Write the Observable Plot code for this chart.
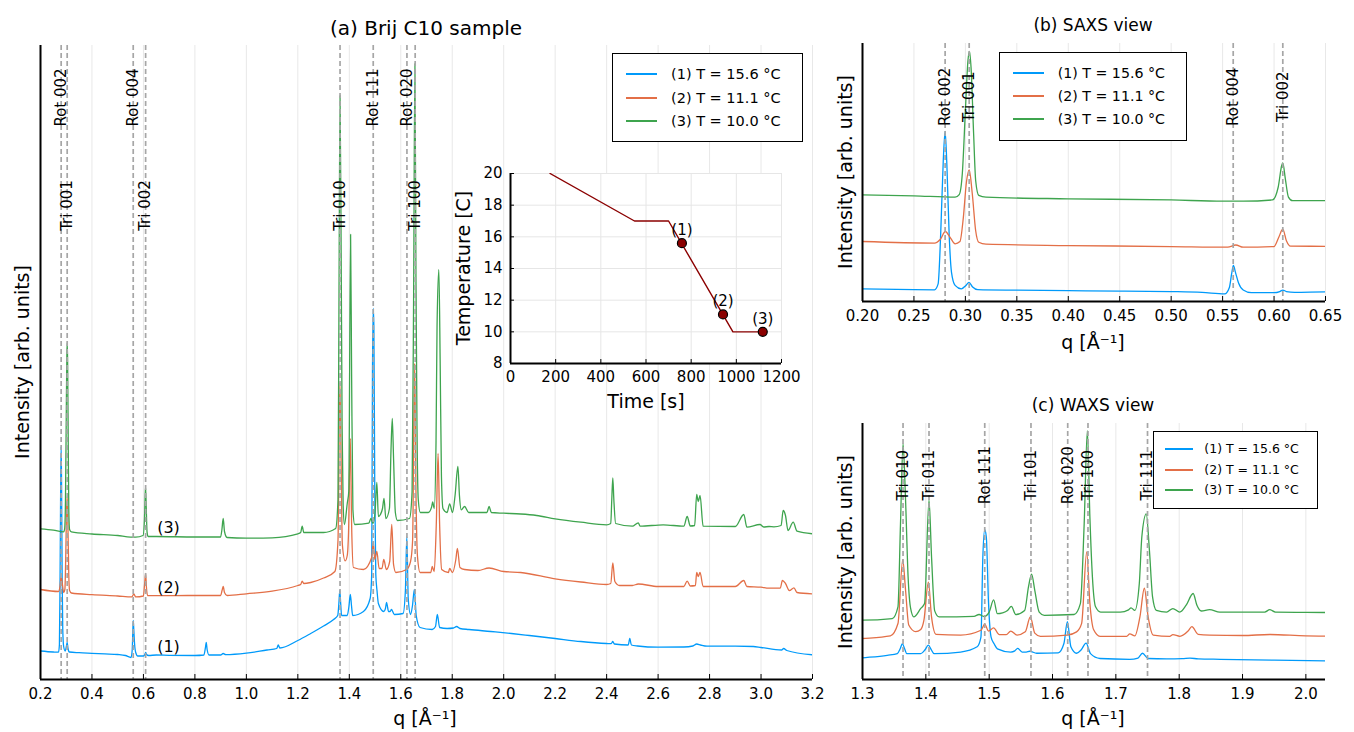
<!DOCTYPE html>
<html><head><meta charset="utf-8">
<script src="https://cdn.jsdelivr.net/npm/d3@7"></script>
<script src="https://cdn.jsdelivr.net/npm/@observablehq/plot@0.6"></script>
<style>
body{margin:0;background:#fff;font-family:"DejaVu Sans",sans-serif;}
#root{position:relative;width:1354px;height:732px;overflow:hidden;background:#fff;}
.pane{position:absolute;}
.lbl{position:absolute;white-space:nowrap;color:#000;line-height:1;}
.legend{position:absolute;border:1.5px solid #000;background:#fff;box-sizing:border-box;}
.legend .sw{position:absolute;height:2px;}
.legend .tx{position:absolute;white-space:nowrap;transform:translateY(-50%);line-height:1;color:#000;}
</style></head><body><div id="root"></div><script>
// ---------- data ----------
const seriesNames = ["(1) T = 15.6 °C", "(2) T = 11.1 °C", "(3) T = 10.0 °C"];
const seriesColors = ["#009AFA", "#E36F47", "#3EA44E"];

// [q (Å^-1), intensity (arb. units, offset)]
const spectrum1 = [
[0.200,28.5],[0.250,27.5],[0.270,27.3],[0.2735,35],[0.2760,100],[0.2785,195],[0.2803,233],[0.2820,190],[0.2842,100],[0.2865,50],[0.2900,33],[0.2960,28.5],[0.3005,33],[0.3035,37],[0.3070,31],[0.3120,27.5],[0.350,26.8],[0.400,26.2],[0.450,25.6],[0.500,25.0],[0.530,24.0],[0.552,22.0],[0.5565,30],[0.5590,50],[0.5605,59],[0.5625,50],[0.5655,36],[0.5700,27],[0.5780,23.5],[0.600,23.5],[0.6055,25],[0.6085,27],[0.6120,25],[0.620,24],[0.650,24.5],[0.700,24.2],[0.800,24],[0.835,24.5],[0.8415,33],[0.8440,37],[0.8475,30],[0.855,24.5],[0.900,24.5],[0.910,26],[0.920,24.8],[1.000,26.3],[1.080,29.5],[1.118,31],[1.124,34.5],[1.130,31.5],[1.200,39],[1.250,46],[1.300,53.5],[1.339,60],[1.355,64],[1.3595,76],[1.3630,89],[1.3665,76],[1.370,64],[1.392,64],[1.3985,73],[1.404,85],[1.4085,74],[1.413,64],[1.455,68],[1.481,81],[1.487,105],[1.490,303],[1.493,371],[1.4955,353],[1.499,188],[1.503,105],[1.508,88],[1.513,76],[1.534,68],[1.5405,71],[1.545,77],[1.549,72],[1.552,68],[1.5585,68],[1.564,70],[1.575,65],[1.609,66],[1.618,89],[1.6235,143],[1.629,81],[1.638,65],[1.645,73],[1.653,90],[1.660,64],[1.675,52],[1.722,50],[1.735,53],[1.742,65],[1.751,52],[1.780,51],[1.805,51.5],[1.817,53],[1.830,51],[1.865,50],[1.950,48],[2.030,46],[2.100,44],[2.200,41],[2.300,38],[2.400,36],[2.418,35.8],[2.424,38],[2.430,35.5],[2.484,34.5],[2.490,41],[2.496,34.5],[2.520,33.5],[2.600,32.3],[2.700,32.5],[2.735,33.5],[2.750,35.5],[2.765,34.5],[2.790,33.3],[2.900,33.3],[2.970,33],[3.000,32],[3.080,29.5],[3.088,31],[3.100,29],[3.200,24.7]
];
const spectrum2 = [
[0.200,90],[0.270,88],[0.2757,93],[0.2805,103],[0.2853,95],[0.2900,87],[0.2947,90],[0.2980,121],[0.3010,167],[0.3037,183],[0.3067,152],[0.3100,104],[0.3130,89],[0.3200,86.5],[0.400,84.8],[0.500,83.5],[0.555,82.6],[0.5628,85.5],[0.570,82.6],[0.5998,83.5],[0.6046,95.6],[0.6085,106],[0.6120,91],[0.6160,84],[0.650,83.8],[0.800,84],[0.900,84],[0.9055,89],[0.9100,93],[0.9150,87],[0.925,84],[1.000,85.7],[1.100,88.3],[1.200,94],[1.211,95],[1.217,98.3],[1.223,96],[1.250,97],[1.300,101.5],[1.344,108],[1.356,138.6],[1.3635,297],[1.368,221],[1.373,135],[1.384,118.6],[1.392,124],[1.397,147],[1.404,241],[1.409,155],[1.416,112],[1.455,110],[1.487,122],[1.493,137],[1.499,120],[1.507,128],[1.516,111],[1.527,111],[1.534,120],[1.544,110],[1.557,118],[1.565,155],[1.572,115],[1.581,107],[1.623,110],[1.638,118],[1.646,139],[1.654,316],[1.659,189],[1.665,123],[1.675,107],[1.717,107],[1.722,113],[1.730,108],[1.738,155],[1.745,226],[1.751,155],[1.759,110],[1.785,107],[1.790,111],[1.801,107],[1.814,120],[1.820,131],[1.830,112],[1.848,110],[1.900,109],[1.943,111.5],[2.000,108],[2.066,107],[2.200,100.7],[2.300,97.5],[2.400,95],[2.416,96],[2.424,116.5],[2.432,98],[2.450,94],[2.500,94],[2.523,95.5],[2.600,93],[2.700,93],[2.713,98.3],[2.725,93.5],[2.745,94],[2.750,107],[2.756,103],[2.763,107],[2.775,93],[2.900,93],[2.933,99],[2.945,93],[3.000,92.3],[3.030,91.3],[3.075,91.5],[3.083,99],[3.095,96],[3.110,89],[3.128,91.7],[3.140,87],[3.200,85.7]
];
const spectrum3 = [
[0.200,150.7],[0.250,149.4],[0.290,147.6],[0.294,151],[0.297,178],[0.300,260],[0.3025,325],[0.3040,337],[0.3055,316],[0.308,230],[0.310,169],[0.313,150],[0.320,147.6],[0.400,145.5],[0.500,144],[0.550,142.4],[0.570,142.4],[0.5985,144],[0.604,160.5],[0.6075,189],[0.6085,192],[0.611,171],[0.614,147.6],[0.618,143],[0.650,143],[0.800,142.5],[0.900,142.5],[0.905,150],[0.910,161],[0.915,148],[0.925,142],[1.000,141.3],[1.100,141.7],[1.200,145.7],[1.211,147],[1.217,153.3],[1.223,147],[1.300,147],[1.347,151],[1.356,180],[1.360,386],[1.364,584],[1.368,444],[1.372,254],[1.376,176],[1.381,155],[1.392,176],[1.398,188],[1.405,445],[1.409,304],[1.414,170],[1.421,155],[1.476,156.4],[1.484,161],[1.492,156],[1.500,167],[1.507,197],[1.513,163],[1.521,165],[1.529,171],[1.535,181],[1.542,161],[1.556,171],[1.562,229],[1.567,261],[1.572,221],[1.579,167],[1.587,159],[1.634,161],[1.644,188],[1.650,386],[1.655,616],[1.659,403],[1.663,254],[1.668,180],[1.676,167],[1.707,167],[1.720,172.6],[1.724,177.5],[1.730,171],[1.737,237],[1.741,353],[1.748,410],[1.753,320],[1.758,204],[1.764,171],[1.780,167],[1.790,175.7],[1.801,167],[1.811,184],[1.822,213],[1.828,184],[1.835,169.6],[1.848,173],[1.864,167],[1.935,167],[1.943,173],[1.952,167],[2.000,166.3],[2.066,165.5],[2.128,164],[2.200,160.7],[2.300,157.3],[2.400,154.7],[2.416,156],[2.420,180],[2.424,201.5],[2.428,180],[2.435,156],[2.500,153.3],[2.523,156.7],[2.530,153.3],[2.620,154.7],[2.700,153.3],[2.713,163],[2.725,153.5],[2.742,154],[2.750,185],[2.756,178],[2.763,184],[2.775,153.3],[2.900,153],[2.933,165],[2.945,152.3],[2.996,155],[3.010,152.5],[3.031,153],[3.050,152.7],[3.078,154],[3.086,169],[3.095,164],[3.105,149],[3.125,157.3],[3.140,148.3],[3.200,145.7]
];

const refsMain = [
  {q:0.2803, label:"Rot 002"}, {q:0.3037, label:"Tri 001"},
  {q:0.5603, label:"Rot 004"}, {q:0.6085, label:"Tri 002"},
  {q:1.364, label:"Tri 010"}, {q:1.493, label:"Rot 111"},
  {q:1.624, label:"Rot 020"}, {q:1.656, label:"Tri 100"}
];
const refsSAXS = [
  {q:0.2803, label:"Rot 002"}, {q:0.3037, label:"Tri 001"},
  {q:0.5603, label:"Rot 004"}, {q:0.6085, label:"Tri 002"}
];
const refsWAXS = [
  {q:1.364, label:"Tri 010"}, {q:1.405, label:"Tri 011"},
  {q:1.493, label:"Rot 111"}, {q:1.566, label:"Tri 101"},
  {q:1.624, label:"Rot 020"}, {q:1.656, label:"Tri 100"},
  {q:1.750, label:"Tri 111"}
];
const mainTicks = [0.2,0.4,0.6,0.8,1.0,1.2,1.4,1.6,1.8,2.0,2.2,2.4,2.6,2.8,3.0,3.2];
const saxsTicks = [0.20,0.25,0.30,0.35,0.40,0.45,0.50,0.55,0.60,0.65];
const waxsTicks = [1.3,1.4,1.5,1.6,1.7,1.8,1.9,2.0];
const curveLabels = [{q:0.6975, i:33, t:"(1)"}, {q:0.6975, i:92, t:"(2)"}, {q:0.6975, i:152, t:"(3)"}];

const timeProfile = [[175,20],[549,17],[700,17],[985,10],[1117,10]];
const timePoints = [{t:759, T:15.6, l:"(1)"}, {t:941, T:11.1, l:"(2)"}, {t:1117, T:10.0, l:"(3)"}];
const timeTicks = [0,200,400,600,800,1000,1200];
const tempTicks = [8,10,12,14,16,18,20];

// ---------- layout helpers ----------
const root = document.getElementById("root");
function place(el, left, top){
  const d = document.createElement("div");
  d.className = "pane"; d.style.left = left+"px"; d.style.top = top+"px";
  d.appendChild(el); root.appendChild(d); return d;
}
function label(text, x, y, size, rot){
  const d = document.createElement("div");
  d.className = "lbl"; d.textContent = text;
  d.style.left = x+"px"; d.style.top = y+"px"; d.style.fontSize = size+"px";
  d.style.transform = "translate(-50%,-50%)" + (rot ? " rotate(-90deg)" : "");
  root.appendChild(d);
}
function legend(left, top, w, h, rows, swX1, swX2, txX, fs){
  const b = document.createElement("div");
  b.className = "legend";
  Object.assign(b.style, {left:left+"px", top:top+"px", width:w+"px", height:h+"px"});
  seriesNames.forEach((n,i)=>{
    const s = document.createElement("div"); s.className = "sw";
    Object.assign(s.style, {left:swX1+"px", width:(swX2-swX1)+"px", top:(rows[i]-1)+"px", background:seriesColors[i]});
    const t = document.createElement("div"); t.className = "tx"; t.textContent = n;
    Object.assign(t.style, {left:txX+"px", top:rows[i]+"px", fontSize:fs+"px"});
    b.appendChild(s); b.appendChild(t);
  });
  root.appendChild(b);
}

const spectra = [spectrum1, spectrum2, spectrum3];
function panel(c){
  const plotH = c.h - c.mT - c.mB;
  const tk = 5 * (c.yd[1]-c.yd[0]) / plotH;
  return Plot.plot({
    width:c.w, height:c.h, marginLeft:c.mL, marginRight:c.mR, marginTop:c.mT, marginBottom:c.mB,
    x:{domain:c.xd}, y:{domain:c.yd, axis:null},
    style:{fontFamily:"DejaVu Sans", fontSize:"15px", color:"black", background:"transparent", overflow:"visible"},
    marks:[
      Plot.ruleX(c.ticks, {stroke:"#e8e8e8", strokeWidth:1}),
      ...spectra.map((s,i)=>Plot.line(s, {x:d=>d[0], y:d=>d[1], stroke:seriesColors[i], strokeWidth:1.3, curve:"monotone-x", clip:true})),
      Plot.ruleX(c.refs, {x:"q", stroke:"#a6a6a6", strokeWidth:1.7, strokeDasharray:"5,3"}),
      Plot.text(c.refs, {x:"q", y:c.refY, text:"label", rotate:-90, fontSize:c.refFs, fill:"black"}),
      ...(c.extra || []),
      Plot.ruleX(c.ticks, {y1:c.yd[0], y2:c.yd[0]+tk, stroke:"black", strokeWidth:1}),
      Plot.ruleY([c.yd[0]], {stroke:"black", strokeWidth:2}),
      Plot.ruleX([c.xd[0]], {stroke:"black", strokeWidth:2}),
      Plot.axisX({ticks:c.ticks, tickSize:0, tickPadding:9, tickFormat:c.fmt, fontSize:15, label:null})
    ]
  });
}

// ---------- (a) main panel ----------
const mainPlot = panel({
  w:820, h:732, mL:40, mR:8, mT:45, mB:53,
  xd:[0.2,3.2], yd:[0,634], ticks:mainTicks, fmt:d3.format(".1f"),
  refs:refsMain, refY:d=>d.label.startsWith("Rot") ? 582 : 474, refFs:15,
  extra:[Plot.text(curveLabels, {x:"q", y:"i", text:"t", fontSize:16, fill:"black"})]
});
place(mainPlot, 0, 0);

// ---------- inset ----------
{
  const yd = [8,20];
  const tkY = 4*(yd[1]-yd[0])/190, tkX = 4*1200/271;
  const inset = Plot.plot({
    width:350, height:255, marginLeft:70, marginRight:9, marginTop:13, marginBottom:52,
    x:{domain:[0,1200]}, y:{domain:yd},
    style:{fontFamily:"DejaVu Sans", fontSize:"15px", color:"black", background:"transparent", overflow:"visible"},
    marks:[
      Plot.frame({fill:"white", stroke:null}),
      Plot.ruleX(timeTicks, {stroke:"#e6e6e6"}),
      Plot.ruleY(tempTicks, {stroke:"#e6e6e6"}),
      Plot.line(timeProfile, {x:d=>d[0], y:d=>d[1], stroke:"#8B0000", strokeWidth:1.4, clip:true}),
      Plot.dot(timePoints, {x:"t", y:"T", r:4.5, fill:"#8B0000", stroke:"black", strokeWidth:1.2}),
      Plot.text(timePoints, {x:"t", y:"T", text:"l", dy:-13, fontSize:15, fill:"black"}),
      Plot.ruleX(timeTicks, {y1:yd[0], y2:yd[0]+tkY, stroke:"black"}),
      Plot.ruleY(tempTicks, {x1:0, x2:tkX, stroke:"black"}),
      Plot.ruleY([yd[0]], {stroke:"black", strokeWidth:2}),
      Plot.ruleX([0], {stroke:"black", strokeWidth:2}),
      Plot.axisX({ticks:timeTicks, tickSize:0, tickPadding:8, fontSize:15, tickFormat:d3.format("d"), label:null}),
      Plot.axisY({ticks:tempTicks, tickSize:0, tickPadding:8, fontSize:15, tickFormat:d3.format("d"), label:null})
    ]
  });
  place(inset, 440, 160);
}

// ---------- (b) SAXS ----------
const saxsPlot = panel({
  w:534, h:360, mL:42, mR:29, mT:43, mB:59,
  xd:[0.2,0.65], yd:[12.1,347.2], ticks:saxsTicks, fmt:d3.format(".2f"),
  refs:refsSAXS, refY:278, refFs:15
});
place(saxsPlot, 820, 0);

// ---------- (c) WAXS ----------
const waxsPlot = panel({
  w:534, h:352, mL:42, mR:29, mT:43, mB:53,
  xd:[1.3,2.031], yd:[0,634], ticks:waxsTicks, fmt:d3.format(".1f"),
  refs:refsWAXS, refY:506, refFs:15
});
place(waxsPlot, 820, 380);

// ---------- texts ----------
label("(a) Brij C10 sample", 426, 28, 20);
label("q [Å⁻¹]", 425, 718, 19);
label("Intensity [arb. units]", 22, 362, 19, true);
label("Temperature [C]", 463, 268, 19, true);
label("Time [s]", 646, 401, 19);
label("(b) SAXS view", 1093, 25, 17);
label("q [Å⁻¹]", 1093, 342, 19);
label("Intensity  [arb. units]", 845, 172, 19, true);
label("(c) WAXS view", 1093, 405, 17);
label("q [Å⁻¹]", 1093, 718, 19);
label("Intensity  [arb. units]", 845, 552, 19, true);

// ---------- legends ----------
legend(612, 53, 191, 89, [20.3, 44, 67.3], 13, 44, 58, 14.5);
legend(999, 52, 188, 89, [19.7, 43, 66.3], 13, 44, 57.7, 14.2);
legend(1153, 431, 165, 78, [17.3, 38, 58], 11, 39, 50.3, 12.5);
</script></body></html>
